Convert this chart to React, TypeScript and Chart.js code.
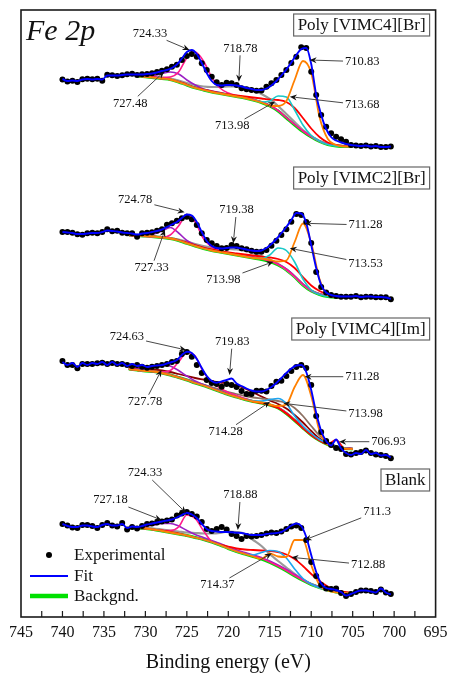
import React, { useEffect, useRef } from "react";
import { Chart, registerables } from "chart.js";

Chart.register(...registerables);

// ---------- shared energy grids (eV) ----------
const expEnergy = [
  740.0, 739.4, 738.8, 738.2, 737.6, 737.0, 736.4, 735.8, 735.2, 734.6,
  734.0, 733.4, 732.8, 732.2, 731.6, 731.0, 730.4, 729.8, 729.2, 728.6,
  728.0, 727.4, 726.8, 726.2, 725.6, 725.0, 724.4, 723.8, 723.2, 722.6,
  722.0, 721.4, 720.8, 720.2, 719.6, 719.0, 718.4, 717.8, 717.2, 716.6,
  716.0, 715.4, 714.8, 714.2, 713.6, 713.0, 712.4, 711.8, 711.2, 710.6,
  710.0, 709.4, 708.8, 708.2, 707.6, 707.0, 706.4, 705.8, 705.2, 704.6,
  704.0, 703.4, 702.8, 702.2, 701.6, 701.0, 700.4,
];
const compEnergy = [
  732, 731, 730, 729, 728, 727, 726, 725, 724, 723, 722, 721, 720, 719,
  718, 717, 716, 715, 714, 713, 712, 711, 710, 709, 708, 707, 706, 705,
];
const xTickValues = [745, 740, 735, 730, 725, 720, 715, 710, 705, 700, 695];

// ---------- Poly [VIMC4][Br] ----------
const c4BrExp = [
  537.5, 535.5, 536.3, 535, 537.7, 538.3, 537.7, 538.3, 536.3, 542.3,
  541.7, 541, 541.7, 542.7, 543.3, 542, 542.7, 543, 543.7, 545,
  546.3, 547.7, 550.3, 552.3, 557, 561, 563, 560.3, 553.7, 547,
  540.3, 534.7, 532, 534.3, 533.7, 532, 528.7, 527.7, 527, 526.3,
  526.5, 530.3, 533.7, 537, 542, 547, 554, 560.3, 569.7, 569,
  545.3, 522, 502, 490.3, 483.7, 480.3, 477.7, 475.3, 472, 471.5,
  471, 471.5, 470.5, 471, 470, 470, 470.5,
];
const c4BrFit = [
  538, 536, 536.5, 536, 537.5, 538, 537.5, 538, 537.5, 541.5,
  541.5, 541.5, 542, 542.5, 542.5, 542.5, 542.5, 543, 543.5, 544.5,
  546, 547, 549, 552.5, 558.5, 565, 567, 563, 554, 544,
  536, 532, 531.5, 532, 532, 531.5, 530.5, 529, 528, 527,
  527, 528.5, 531.5, 536, 541.5, 547.5, 554.5, 562, 568, 569,
  553, 522, 502, 488, 480, 476.5, 474.5, 473, 472, 471.5,
  471, 471.5, 470.5, 471, 470, 470, 470.5,
];
const c4BrBg = [null, 541, 540.2, 539.3, 538.5, 537.5, 535, 532, 529.2, 527, 525, 523.5, 522, 520.5, 519, 517, 514.5, 511, 506, 499, 492, 485.5, 480, 475.5, 472.5, 471, 470.5, 470.5];
const c4BrGray = [null, 541.5, 541, 540, 539.5, 538.5, 536.5, 534, 532, 530.5, 530, 530, 530.5, 530.5, 529.5, 527, 523, 518, 511, 503, 495, 487, 481, 476, 473, 471.5, 471, 471];
const c4BrPurple = [null, 541.5, 541.5, 541.5, 543.5, 545, 543, 537, 532, 528, 526, 524.5, 522.5, 521, 519.5, 517.5, 515, 511.5, 506.5, 499.5, 492.5, 486, 480.5, 476, 473, 471.5, 471, 471];
const c4BrMagenta = [null, 541, 540.5, 540, 539.5, 540, 545, 559, 565, 556, 540, 529, 524, 521.5, 519.5, 517.5, 515, 511.5, 506.5, 499.5, 492.5, 486, 480.5, 476, 473, 471.5, 471, 471];
const c4BrRed = [null, 541, 540.5, 539.5, 538.5, 537.5, 535.5, 532.5, 529.5, 527.5, 525.5, 524, 522.5, 521.5, 520.5, 519.5, 518.5, 517.5, 517, 515, 509, 499, 488.5, 480, 474.5, 472, 471, 470.5];
const c4BrCyan = [null, 541, 540.2, 539.3, 538.5, 537.5, 535, 532, 529.2, 527, 525, 523.5, 522, 520.5, 519, 517, 515, 516, 521, 520, 507, 492, 481.5, 476, 472.5, 471, 470.5, 470.5];
const c4BrOrange = [null, 541, 540.2, 539.3, 538.5, 537.5, 535, 532, 529.2, 527, 525, 523.5, 522, 520.5, 519, 517, 514.5, 511.5, 511, 516, 537, 556, 544, 500, 478, 472, 470.5, 470.5];

// ---------- Poly [VIMC2][Br] ----------
const c2BrExp = [
  385, 385, 384.3, 382.7, 382.3, 383.7, 384.3, 383.7, 385, 387.7,
  385.7, 386.3, 384.3, 383.7, 383.7, 380.3, 383.7, 384.3, 384.7, 386.3,
  387.7, 392.3, 393.7, 396.3, 398.7, 400.3, 397.7, 392, 383.7, 377,
  373.7, 371, 368.7, 369, 372, 371, 368.7, 367.7, 366.3, 365.3,
  365.3, 367, 371.3, 376.3, 382, 387.7, 395.3, 403, 402, 395,
  374, 345, 330, 324.5, 322, 321, 320.3, 320.3, 320.3, 321,
  319.7, 320.3, 320.3, 319.7, 319.7, 319.7, 317.7,
];
const c2BrFit = [
  385, 384.5, 384, 383, 383, 383.5, 384, 384, 385, 386.5,
  386, 385.5, 384.5, 384, 383.5, 382.5, 383.5, 384, 385, 386,
  387.5, 390, 392.5, 395, 399, 402.5, 401.5, 395, 385, 376,
  371, 369, 368.5, 369, 369.5, 369.5, 368.5, 367.5, 366.5, 366,
  366.5, 369, 373, 378, 384, 390, 397, 404, 403.5, 394,
  372, 349, 332, 324.5, 322, 321, 320.5, 320.5, 320.5, 321,
  320, 320.5, 320.5, 320, 320, 319.5, 318,
];
const c2BrBg = [382, 381.5, 381, 380.3, 379.5, 378.5, 376.5, 373.7, 371, 368.5, 366.5, 365, 363.5, 362, 360.5, 359, 357.5, 355.5, 352, 347, 340, 332, 326, 322.5, 320.5, 319.7, 319.5, 319.5];
const c2BrGray = [382, 381.5, 381, 380.5, 380, 379, 377.5, 375.5, 373, 371, 369.5, 368.5, 368, 367.5, 366, 364, 361, 357.5, 353, 347.5, 340.5, 332.5, 326.5, 323, 321, 320, 319.5, 319.5];
const c2BrPurple = [382, 382, 382, 383, 386, 389.5, 384, 376.5, 372, 369.5, 367.5, 366, 364.5, 363, 361.5, 360, 358.5, 356.5, 353, 348, 341, 333, 326.5, 323, 321, 320, 319.5, 319.5];
const c2BrMagenta = [381.5, 381, 380.5, 380, 379.5, 382, 391, 402.5, 395, 378.5, 370, 366, 364, 362.5, 361, 359.5, 358, 356, 352.5, 347.5, 340.5, 332.5, 326.5, 323, 321, 320, 319.5, 319.5];
const c2BrRed = [382, 381.5, 381, 380.5, 379.5, 378.5, 377, 374.5, 372, 369.5, 367.5, 366, 364.5, 363.5, 362.5, 361.5, 360.5, 359.5, 358, 355, 349, 340, 331.5, 326, 322.5, 320.5, 319.7, 319.5];
const c2BrCyan = [382, 381.5, 381, 380.3, 379.5, 378.5, 376.5, 373.7, 371, 368.5, 366.5, 365, 363.5, 362, 360.5, 359, 358.5, 362, 369, 366.5, 355, 338, 327, 322.5, 320.5, 319.7, 319.5, 319.5];
const c2BrOrange = [382, 381.5, 381, 380.3, 379.5, 378.5, 376.5, 373.7, 371, 368.5, 366.5, 365, 363.5, 362, 360.5, 359, 358.5, 357, 355.5, 356.5, 375, 393.5, 374, 338, 322, 319.7, 319.5, 319.5];

// ---------- Poly [VIMC4][Im] ----------
const c4ImExp = [
  256, 252, 252, 248.7, 253, 253, 253, 253.7, 254.3, 253,
  254, 253, 253, 252, 251, 252, 250.3, 249.3, 250.3, 251,
  252, 253, 255, 256, 263, 265, 260.3, 252, 244, 237,
  234, 233, 230.3, 233, 232, 230, 226, 223, 223, 226.3,
  226.3, 225.5, 231, 235.3, 236.3, 241, 246, 250, 252, 249,
  232, 201, 185, 176, 172, 169, 168, 163, 162.5, 164,
  165, 166.5, 164, 162.5, 162, 161, 158.7,
];
const c4ImFit = [
  255, 252, 254, 250, 254, 252, 254, 253, 255, 252,
  255, 252, 254, 251, 253, 251, 252, 250, 251, 251.5,
  252, 253.5, 255, 257, 262, 265.3, 264, 258, 249, 241,
  236, 234.3, 235.5, 237, 238.5, 233.5, 231, 228.5, 226.5, 225.5,
  225.5, 227, 230, 234, 239, 244, 248.5, 251.5, 252, 245,
  227, 204, 186, 176, 171.5, 177.5, 168.5, 164, 162, 164,
  163, 167, 163, 164, 161.5, 162, 159.5,
];
const c4ImBg = [248, 247, 246, 245.5, 244, 242, 239.5, 237, 234, 231.5, 228.5, 225.5, 222.5, 220, 217.5, 215.5, 214, 212, 209, 203.5, 196.5, 189, 182, 176.5, 172.5, 170, 168.5, 168];
const c4ImMaroon = [249, 248.5, 248, 247.5, 246.5, 245, 243, 241, 239, 237.5, 236, 234.5, 233.5, 231.5, 228.5, 224.5, 220.5, 216.5, 213, 208.5, 202, 194.5, 186, 178.5, 173.5, 170.5, 168.5, 168];
const c4ImBrown = [248, 247, 246.5, 246, 244.5, 242.5, 240, 237.5, 235, 232.5, 230, 227.5, 225, 223, 221, 219.5, 218.5, 217.5, 216, 214, 209, 201, 191, 181.5, 175, 171, 169, 168];
const c4ImPurple = [248.5, 248, 248, 249.5, 252, 251, 246.5, 241, 236, 232.5, 229, 226, 223, 220.5, 218, 216, 214.5, 212.5, 209.5, 204, 197, 189.5, 182.5, 177, 173, 170.5, 169, 168.5];
const c4ImMagenta = [248, 247, 246, 245.5, 245, 246.5, 255, 264.5, 261, 245, 235, 229, 224.5, 221.5, 218.5, 216, 214.5, 212.5, 209.5, 204, 197, 189.5, 182.5, 177, 173, 170.5, 169, 168.5];
const c4ImCyan = [248, 247, 246, 245.5, 244, 242, 239.5, 237, 234, 231.5, 228.5, 225.5, 222.5, 220, 217.5, 216, 216, 217.5, 218.5, 213.5, 201, 191, 183.5, 177.5, 173.5, 170.5, 169, 168];
const c4ImOrange = [248, 247, 246, 245.5, 244, 242, 239.5, 237, 234, 231.5, 228.5, 225.5, 222.5, 220, 217.5, 215.5, 214.5, 212.5, 211, 212.5, 230, 242, 221, 186, 172.5, 169.5, 168.5, 168];
const c4ImRed = [248, 247, 246, 245.5, 244, 242, 239.5, 237, 234, 231.5, 228.5, 225.5, 222.5, 220, 217.5, 215.5, 214, 212, 209, 203.5, 196.5, 189, 182, 176.5, 173, 177, 168.5, 168];

// ---------- Blank ----------
const blankExp = [
  93, 91.5, 89.5, 89, 92, 92, 91, 89, 92, 94,
  91.5, 90.5, 94, 87.5, 90, 88.5, 91, 93, 93.5, 94.5,
  95.5, 96.5, 97.5, 101.5, 103.5, 105, 103, 100.5, 95, 88,
  86, 88, 90, 87.5, 83, 81, 78, 81, 80.5, 81,
  82, 83.5, 84.5, 84, 85.5, 88, 90.5, 91.5, 89, 77,
  55, 41, 32, 28.5, 28, 28.5, 24, 21, 23, 25,
  26.5, 26.5, 26, 25, 27.5, 24.5, 23,
];
const blankFit = [
  93, 91, 90, 90, 91.5, 91.5, 90.5, 90, 92, 93,
  91.5, 91.5, 93, 89, 90.5, 90, 91, 92.5, 93.5, 94.5,
  95.5, 96.5, 97.5, 99.5, 102, 104.3, 102.5, 99, 93, 88,
  86, 85.5, 85, 85, 84.7, 84.3, 84, 83, 82, 82,
  82, 83, 83.5, 84, 85, 88, 91.5, 93.5, 91, 80,
  62, 45, 33.5, 29, 28, 27, 25, 21.5, 23, 25,
  26.5, 26.5, 25.5, 24.5, 28.5, 24.5, 22.5,
];
const blankBg = [89.5, 89, 88.5, 87.5, 86, 84.5, 83, 81.5, 79.5, 77.5, 75, 72, 68.5, 65.5, 63, 60.5, 58, 54.5, 50.5, 46, 41, 36.5, 32.5, 29.5, 27, 25, 24, 23.5];
const blankGray = [90, 89.5, 89, 88.5, 87.5, 86.5, 85.5, 84.5, 84, 83.5, 83.5, 84, 85.5, 85, 83, 77, 71, 63, 56, 49.5, 43, 37.5, 33, 29.5, 27, 25, 24, 23.5];
const blankPurple = [90, 90, 90.5, 92, 93.5, 93.5, 91, 86.5, 82.5, 79.5, 76.5, 73.5, 70, 67, 64.5, 62, 59.5, 56, 52, 47.5, 42.5, 37.5, 33, 30, 27.5, 25.5, 24.5, 24];
const blankMagenta = [89.5, 89, 88.5, 87.5, 86.5, 86.5, 90, 102, 98.5, 86.3, 75.3, 72.5, 69, 66, 63.5, 61, 58.5, 55, 51, 46.5, 41.5, 37, 33, 30, 27.5, 25.5, 24.5, 24];
const blankRed = [89.5, 89, 88.5, 87.5, 86.5, 85, 83.5, 81.5, 79.5, 77.5, 75, 72.5, 70.5, 68.5, 67.5, 67, 66.5, 66, 65, 62.5, 58, 51, 43, 36, 30.5, 27, 25, 24];
const blankCyan = [89.5, 89, 88.5, 87.5, 86, 84.5, 83, 81.5, 79.5, 77.5, 75, 72, 68.5, 65.5, 63, 62, 64.5, 66.5, 65.5, 59, 48, 38.5, 33, 29.5, 27, 25, 24, 23.5];
const blankOrange = [89.5, 89, 88.5, 87.5, 86, 84.5, 83, 81.5, 79.5, 77.5, 75, 72, 68.5, 65.5, 63, 60.5, 58, 63.5, 60.5, 60, 77, 77, 52, 32, 26.5, 24.7, 24, 23.5];

// ---------- panel names and peak annotations ----------
const panelNames = ["Poly [VIMC4][Br]", "Poly [VIMC2][Br]", "Poly [VIMC4][Im]", "Blank"];
const panelBoxTop = [603, 450, 299, 148]; // intensity level of each name box top

// [text, tip energy, tip intensity, text energy, text intensity]
const c4BrPeaks: [string, number, number, number, number][] = [
  ["724.33", 724.68, 567, 729.44, 583.7],
  ["718.78", 718.73, 535.3, 718.54, 568.7],
  ["710.83", 710.2, 557, 703.85, 555.3],
  ["727.48", 727.74, 545.3, 731.82, 513.7],
  ["713.68", 712.58, 520.3, 703.85, 512],
  ["713.98", 714.37, 515.3, 719.52, 491],
];
const c2BrPeaks: [string, number, number, number, number][] = [
  ["724.78", 725.27, 404.7, 731.23, 417],
  ["719.38", 719.4, 373.7, 719.01, 407],
  ["711.28", 710.8, 393.7, 703.45, 392],
  ["727.33", 727.65, 387, 729.25, 349.3],
  ["713.53", 712.58, 368.7, 703.45, 353.7],
  ["713.98", 714.56, 355.3, 720.6, 337],
];
const c4ImPeaks: [string, number, number, number, number][] = [
  ["724.63", 725.08, 267, 732.23, 280.3],
  ["719.83", 719.85, 242, 719.52, 275.3],
  ["711.28", 710.8, 240.3, 703.85, 240.3],
  ["727.78", 728.06, 247, 730.04, 215.3],
  ["713.98", 713.37, 213.7, 703.45, 203.7],
  ["714.28", 714.96, 215.3, 720.32, 185.3],
  ["706.93", 706.63, 175.3, 700.68, 175.3],
];
const blankPeaks: [string, number, number, number, number][] = [
  ["724.33", 725.08, 104, 730.04, 144],
  ["727.18", 728.06, 97, 734.2, 117],
  ["718.88", 718.85, 87, 718.54, 122],
  ["711.3", 710.8, 77, 702.06, 105.3],
  ["712.88", 712.38, 59.7, 703.13, 52],
  ["714.37", 714.76, 63.7, 721.31, 32],
];
const legendLabels = ["Experimental", "Fit", "Backgnd."];

// ---------- styles ----------
const SERIF = "'Liberation Serif', 'Times New Roman', serif";
const styles: Record<string, { color: string; width: number; order: number }> = {
  bg: { color: "#00e000", width: 3, order: 20 },
  gray: { color: "#9a9a9a", width: 2.2, order: 19 },
  maroon: { color: "#8b0000", width: 1.8, order: 18 },
  brown: { color: "#8d7062", width: 1.8, order: 17 },
  purple: { color: "#9b1fc4", width: 1.6, order: 16 },
  magenta: { color: "#ff1a8c", width: 1.6, order: 15 },
  red: { color: "#ff0000", width: 1.8, order: 14 },
  cyan: { color: "#19c8c8", width: 1.6, order: 13 },
  sky: { color: "#1ea5f0", width: 1.6, order: 13 },
  orange: { color: "#ff8000", width: 1.8, order: 12 },
};

const panels = [
  { exp: c4BrExp, fit: c4BrFit, comps: [["bg", c4BrBg], ["gray", c4BrGray], ["purple", c4BrPurple], ["magenta", c4BrMagenta], ["red", c4BrRed], ["cyan", c4BrCyan], ["orange", c4BrOrange]] },
  { exp: c2BrExp, fit: c2BrFit, comps: [["bg", c2BrBg], ["gray", c2BrGray], ["purple", c2BrPurple], ["magenta", c2BrMagenta], ["red", c2BrRed], ["cyan", c2BrCyan], ["orange", c2BrOrange]] },
  { exp: c4ImExp, fit: c4ImFit, comps: [["bg", c4ImBg], ["maroon", c4ImMaroon], ["brown", c4ImBrown], ["purple", c4ImPurple], ["magenta", c4ImMagenta], ["sky", c4ImCyan], ["orange", c4ImOrange], ["red", c4ImRed]] },
  { exp: blankExp, fit: blankFit, comps: [["bg", blankBg], ["gray", blankGray], ["purple", blankPurple], ["magenta", blankMagenta], ["red", blankRed], ["sky", blankCyan], ["orange", blankOrange]] },
];
const panelPeaks = [c4BrPeaks, c2BrPeaks, c4ImPeaks, blankPeaks];

function buildDatasets() {
  const ds: any[] = [];
  panels.forEach((p) => {
    (p.comps as [string, (number | null)[]][]).forEach(([key, vals]) => {
      const st = styles[key];
      ds.push({
        type: "line",
        data: compEnergy.map((e, i) => ({ x: e, y: vals[i] })),
        borderColor: st.color,
        borderWidth: st.width,
        pointRadius: 0,
        cubicInterpolationMode: "monotone",
        spanGaps: false,
        fill: false,
        order: st.order,
      });
    });
    ds.push({
      type: "line",
      data: expEnergy.map((e, i) => ({ x: e, y: p.exp[i] })),
      showLine: false,
      pointRadius: 3,
      pointBackgroundColor: "#000",
      pointBorderWidth: 0,
      order: 3,
    });
    ds.push({
      type: "line",
      data: expEnergy.map((e, i) => ({ x: e, y: p.fit[i] })),
      borderColor: "#0000ff",
      borderWidth: 1.9,
      pointRadius: 0,
      cubicInterpolationMode: "monotone",
      fill: false,
      order: 1,
    });
  });
  return ds;
}

const decorPlugin = {
  id: "decor",
  afterDraw(chart: any) {
    const { ctx, chartArea: a, scales } = chart;
    const xs = scales.x;
    const ys = scales.y;
    ctx.save();

    // frame
    ctx.strokeStyle = "#1a1a1a";
    ctx.lineWidth = 1.6;
    ctx.strokeRect(a.left, a.top, a.right - a.left, a.bottom - a.top);

    // inward ticks (major + minor every 2.5 eV)
    ctx.lineWidth = 1.2;
    for (let v = 697.5; v < 745; v += 2.5) {
      const px = xs.getPixelForValue(v);
      ctx.beginPath();
      ctx.moveTo(px, a.bottom);
      ctx.lineTo(px, a.bottom - 6);
      ctx.stroke();
    }

    // Fe 2p title
    ctx.fillStyle = "#111";
    ctx.font = `italic 30px ${SERIF}`;
    ctx.textAlign = "left";
    ctx.textBaseline = "alphabetic";
    ctx.fillText("Fe 2p", a.left + 5, a.top + 30);

    // panel name boxes
    ctx.font = `17px ${SERIF}`;
    panelNames.forEach((name, i) => {
      const w = ctx.measureText(name).width + 8;
      const top = ys.getPixelForValue(panelBoxTop[i]);
      const right = a.right - 6;
      ctx.fillStyle = "#fff";
      ctx.fillRect(right - w, top, w, 22);
      ctx.strokeStyle = "#666";
      ctx.lineWidth = 1.2;
      ctx.strokeRect(right - w, top, w, 22);
      ctx.fillStyle = "#111";
      ctx.textAlign = "center";
      ctx.textBaseline = "middle";
      ctx.fillText(name, right - w / 2, top + 12);
    });

    // peak annotations with arrows
    ctx.font = `12.5px ${SERIF}`;
    panelPeaks.forEach((peaks) => {
      peaks.forEach(([text, te, ti, le, li]) => {
        const tx = xs.getPixelForValue(te);
        const ty = ys.getPixelForValue(ti);
        const cx = xs.getPixelForValue(le);
        const cy = ys.getPixelForValue(li);
        const hw = ctx.measureText(text).width / 2 + 2;
        const hh = 7;
        const dx = tx - cx;
        const dy = ty - cy;
        const s = Math.min(dx !== 0 ? hw / Math.abs(dx) : Infinity, dy !== 0 ? hh / Math.abs(dy) : Infinity);
        const sx = cx + dx * s;
        const sy = cy + dy * s;
        const len = Math.hypot(tx - sx, ty - sy);
        const ux = (tx - sx) / len;
        const uy = (ty - sy) / len;
        const head = 7;
        ctx.strokeStyle = "#333";
        ctx.lineWidth = 0.9;
        ctx.beginPath();
        ctx.moveTo(sx, sy);
        ctx.lineTo(tx - ux * head * 0.8, ty - uy * head * 0.8);
        ctx.stroke();
        ctx.fillStyle = "#111";
        ctx.beginPath();
        ctx.moveTo(tx, ty);
        ctx.lineTo(tx - ux * head - uy * 3, ty - uy * head + ux * 3);
        ctx.lineTo(tx - ux * head * 0.7, ty - uy * head * 0.7);
        ctx.lineTo(tx - ux * head + uy * 3, ty - uy * head - ux * 3);
        ctx.closePath();
        ctx.fill();
        ctx.fillStyle = "#111";
        ctx.textAlign = "center";
        ctx.textBaseline = "middle";
        ctx.fillText(text, cx, cy);
      });
    });

    // legend
    const ly = [a.bottom - 62, a.bottom - 41, a.bottom - 21];
    ctx.font = `17px ${SERIF}`;
    ctx.textAlign = "left";
    ctx.textBaseline = "middle";
    ctx.fillStyle = "#000";
    ctx.beginPath();
    ctx.arc(a.left + 28, ly[0], 3, 0, Math.PI * 2);
    ctx.fill();
    ctx.strokeStyle = "#0000ff";
    ctx.lineWidth = 1.8;
    ctx.beginPath();
    ctx.moveTo(a.left + 9, ly[1]);
    ctx.lineTo(a.left + 47, ly[1]);
    ctx.stroke();
    ctx.strokeStyle = "#00e000";
    ctx.lineWidth = 4.5;
    ctx.beginPath();
    ctx.moveTo(a.left + 9, ly[2]);
    ctx.lineTo(a.left + 47, ly[2]);
    ctx.stroke();
    ctx.fillStyle = "#111";
    legendLabels.forEach((t, i) => ctx.fillText(t, a.left + 53, ly[i] + 1));

    ctx.restore();
  },
};

export default function App() {
  const ref = useRef<HTMLCanvasElement | null>(null);
  useEffect(() => {
    if (!ref.current) return;
    const chart = new Chart(ref.current, {
      type: "line",
      data: { datasets: buildDatasets() },
      options: {
        animation: false,
        responsive: false,
        maintainAspectRatio: false,
        layout: { padding: { left: 21, right: 13, top: 10, bottom: 0 } },
        plugins: { legend: { display: false }, tooltip: { enabled: false } },
        scales: {
          x: {
            type: "linear",
            min: 695,
            max: 745,
            reverse: true,
            afterBuildTicks: (scale: any) => {
              scale.ticks = xTickValues.map((v) => ({ value: v }));
            },
            ticks: {
              padding: 6.4,
              color: "#111",
              autoSkip: false,
              maxRotation: 0,
              font: { family: SERIF, size: 16 },
              callback: (v: any) => String(v),
            },
            grid: { display: false, drawTicks: false },
            border: { display: false },
            title: {
              display: true,
              text: "Binding energy (eV)",
              color: "#111",
              font: { family: SERIF, size: 20 },
              padding: { top: 2, bottom: 0 },
            },
          },
          y: { display: false, min: 0, max: 607 },
        },
      },
      plugins: [decorPlugin],
    } as any);
    return () => chart.destroy();
  }, []);
  return (
    <div style={{ position: "fixed", left: 0, top: 0, width: 454, height: 675, background: "#fff" }}>
      <canvas ref={ref} width={454} height={675} style={{ width: 454, height: 675, display: "block" }} />
    </div>
  );
}
